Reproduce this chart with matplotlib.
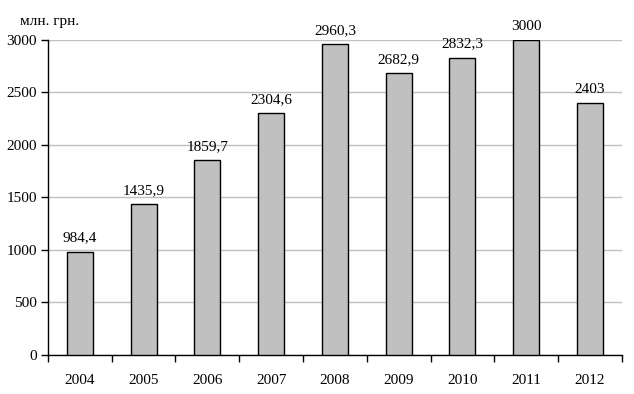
import numpy as np
import matplotlib.pyplot as plt

years = ["2004", "2005", "2006", "2007", "2008", "2009", "2010", "2011", "2012"]
values = [984.4, 1435.9, 1859.7, 2304.6, 2960.3, 2682.9, 2832.3, 3000, 2403]
labels = ["984,4", "1435,9", "1859,7", "2304,6", "2960,3", "2682,9", "2832,3", "3000", "2403"]

plt.rcParams['font.family'] = ['Liberation Serif', 'DejaVu Serif']
plt.rcParams['font.size'] = 11

fig = plt.figure(figsize=(6.34, 3.94), dpi=100)
ax = fig.add_axes([0.0757, 0.099, 0.905, 0.7995])

x = np.arange(len(years))
ax.bar(x, values, width=0.41, color="#c0c0c0", edgecolor="black", linewidth=1, zorder=3)
for xi, v, lab in zip(x, values, labels):
    ax.annotate(lab, (xi, v), xytext=(0, 5), textcoords="offset points",
                ha="center", va="bottom")

ax.set_xlim(-0.5, len(years) - 0.5)
ax.set_ylim(0, 3000)
ax.set_yticks(range(0, 3001, 500))
ax.yaxis.grid(True, color="#c0c0c0", linewidth=1, zorder=0)
ax.set_xticks(x)
ax.set_xticklabels(years)
ax.set_xticks(np.arange(-0.5, len(years), 1), minor=True)
ax.tick_params(axis="x", which="major", length=0, pad=14)
ax.tick_params(axis="x", which="minor", length=5, direction="out", width=1)
ax.tick_params(axis="y", length=5, width=1, pad=3)
for s in ["top", "right"]:
    ax.spines[s].set_visible(False)
ax.spines["left"].set_linewidth(1)
ax.spines["bottom"].set_linewidth(1)

fig.text(20 / 634, 1 - 21 / 394, "млн. грн.", ha="left", va="center")

fig.savefig("out.png", dpi=100)
